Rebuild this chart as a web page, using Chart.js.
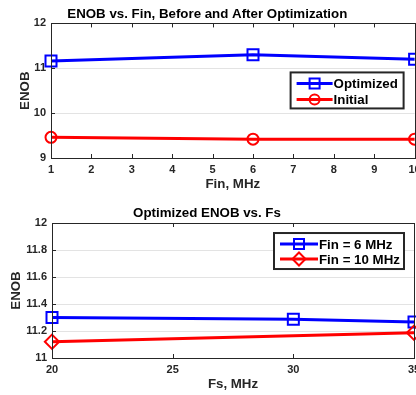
<!DOCTYPE html>
<html>
<head>
<meta charset="utf-8">
<script src="https://cdn.jsdelivr.net/npm/chart.js@4/dist/chart.umd.min.js"></script>
<style>
  html, body { margin: 0; padding: 0; background: #fff; overflow: hidden; width: 416px; height: 395px; }
  canvas { position: absolute; left: 0; }
  #chartFin { top: 0; }
  #chartFs { top: 196px; }
</style>
</head>
<body>
<canvas id="chartFin" width="466" height="196"></canvas>
<canvas id="chartFs" width="466" height="199"></canvas>
<script>
// dados do grafico de cima: ENOB x Fin
const finMHz = [1, 6, 10];
const enobOptimized = [11.16, 11.30, 11.20];
const enobInitial = [9.46, 9.42, 9.42];
const finTicks = [1, 2, 3, 4, 5, 6, 7, 8, 9, 10];
const enobTicksTop = [9, 10, 11, 12];

// dados do grafico de baixo: ENOB otimizado x Fs
const fsMHzFin6 = [20, 30, 35];
const enobFin6 = [11.30, 11.287, 11.267];
const fsMHzFin10 = [20, 35];
const enobFin10 = [11.12, 11.187];
const fsTicks = [20, 25, 30, 35];
const enobTicksBottom = [11, 11.2, 11.4, 11.6, 11.8, 12];

const FONT = "'Liberation Sans', Arial, sans-serif";
const AXIS = '#262626';

function pontos(xs, ys) {
    return xs.map((x, i) => ({ x: x, y: ys[i] }));
}

// desenha o marcador sem preenchimento, como no MATLAB
function marcador(ctx, style, x, y, r) {
    ctx.beginPath();
    if (style === 'rect') {
        ctx.rect(x - r, y - r, 2 * r, 2 * r);
    } else if (style === 'circle') {
        ctx.arc(x, y, r, 0, Math.PI * 2);
    } else {
        ctx.moveTo(x, y - r * 1.3);
        ctx.lineTo(x + r * 1.3, y);
        ctx.lineTo(x, y + r * 1.3);
        ctx.lineTo(x - r * 1.3, y);
        ctx.closePath();
    }
    ctx.stroke();
}

// caixa em volta da area do grafico, marcas internas dos ticks + legenda dentro
const caixaPlugin = {
    id: 'caixa',
    afterDatasetsDraw(chart, args, opts) {
        const ctx = chart.ctx;
        const a = chart.chartArea;
        ctx.save();
        ctx.strokeStyle = AXIS;
        ctx.lineWidth = 1;
        ctx.strokeRect(Math.round(a.left) + 0.5, Math.round(a.top) + 0.5,
            Math.round(a.right - a.left), Math.round(a.bottom - a.top));

        // marcas pequenas dos ticks por dentro
        ctx.beginPath();
        chart.scales.x.ticks.forEach(t => {
            const px = Math.round(chart.scales.x.getPixelForValue(t.value)) + 0.5;
            ctx.moveTo(px, a.bottom);
            ctx.lineTo(px, a.bottom - 4);
            ctx.moveTo(px, a.top);
            ctx.lineTo(px, a.top + 4);
        });
        chart.scales.y.ticks.forEach(t => {
            const py = Math.round(chart.scales.y.getPixelForValue(t.value)) + 0.5;
            ctx.moveTo(a.left, py);
            ctx.lineTo(a.left + 4, py);
        });
        ctx.stroke();

        const lg = opts.legend;
        const bx = a.right - lg.right;
        const by = a.top + lg.top;
        ctx.fillStyle = '#fff';
        ctx.fillRect(bx, by, lg.width, lg.height);
        ctx.lineWidth = 2;
        ctx.strokeStyle = '#262626';
        ctx.strokeRect(bx, by, lg.width, lg.height);

        ctx.font = 'bold 13.3px ' + FONT;
        ctx.textBaseline = 'middle';
        chart.data.datasets.forEach((ds, i) => {
            const y = by + lg.rows[i];
            ctx.strokeStyle = ds.borderColor;
            ctx.lineWidth = 3;
            ctx.beginPath();
            ctx.moveTo(bx + 6, y);
            ctx.lineTo(bx + lg.lineEnd, y);
            ctx.stroke();
            ctx.lineWidth = 2;
            marcador(ctx, ds.pointStyle, bx + (6 + lg.lineEnd) / 2, y, 5);
            ctx.fillStyle = '#000';
            ctx.fillText(ds.label, bx + lg.lineEnd + 1, y + 1);
        });
        ctx.restore();
    }
};

// marcadores desenhados por cima da linha, ocos
const marcadorPlugin = {
    id: 'marcadores',
    afterDatasetsDraw(chart) {
        const ctx = chart.ctx;
        ctx.save();
        chart.data.datasets.forEach((ds, i) => {
            const meta = chart.getDatasetMeta(i);
            ctx.strokeStyle = ds.borderColor;
            ctx.lineWidth = 2;
            meta.data.forEach(p => marcador(ctx, ds.pointStyle, p.x, p.y, 5.5));
        });
        ctx.restore();
    }
};

function serie(label, xs, ys, cor, estilo) {
    return {
        label: label,
        data: pontos(xs, ys),
        borderColor: cor,
        backgroundColor: cor,
        borderWidth: 3,
        pointStyle: estilo,
        pointRadius: 0,
        tension: 0,
        clip: false
    };
}

function opcoes(cfg) {
    return {
        responsive: false,
        animation: false,
        devicePixelRatio: 1,
        layout: { padding: { left: 0, right: cfg.padRight, top: 0, bottom: 0 } },
        plugins: {
            legend: { display: false },
            tooltip: { enabled: false },
            title: {
                display: true,
                text: cfg.title,
                color: '#000',
                font: { family: FONT, size: 13.3, weight: 'bold', lineHeight: 1.1 },
                padding: cfg.titlePad
            },
            caixa: { legend: cfg.legend }
        },
        scales: {
            x: {
                type: 'linear',
                min: cfg.xTicks[0],
                max: cfg.xTicks[cfg.xTicks.length - 1],
                afterBuildTicks: s => { s.ticks = cfg.xTicks.map(v => ({ value: v })); },
                afterFit: s => { s.height = cfg.xHeight; },
                grid: { display: false, drawTicks: false },
                border: { color: AXIS, width: 1 },
                ticks: { color: AXIS, padding: 5, maxRotation: 0, font: { family: FONT, size: 11, weight: 'bold' } },
                title: {
                    display: true,
                    text: cfg.xTitle,
                    color: AXIS,
                    font: { family: FONT, size: 13.3, weight: 'bold', lineHeight: 1.1 },
                    padding: { top: 0, bottom: cfg.xTitlePad }
                }
            },
            y: {
                min: cfg.yTicks[0],
                max: cfg.yTicks[cfg.yTicks.length - 1],
                afterBuildTicks: s => { s.ticks = cfg.yTicks.map(v => ({ value: v })); },
                afterFit: s => { s.width = cfg.yWidth; },
                grid: { color: '#e3e3e3', drawTicks: false },
                border: { color: AXIS, width: 1 },
                ticks: {
                    color: AXIS,
                    padding: 5,
                    font: { family: FONT, size: 11, weight: 'bold' },
                    callback: v => String(Number(v.toFixed(1)))
                },
                title: {
                    display: true,
                    text: 'ENOB',
                    color: AXIS,
                    font: { family: FONT, size: 13.3, weight: 'bold', lineHeight: 1.1 },
                    padding: { top: cfg.yTitlePad, bottom: 0 }
                }
            }
        }
    };
}

if (typeof Chart !== 'undefined') {

    // Grafico de cima
    new Chart(document.getElementById('chartFin').getContext('2d'), {
        type: 'line',
        data: {
            datasets: [
                serie('Optimized', finMHz, enobOptimized, '#0000ff', 'rect'),
                serie('Initial', finMHz, enobInitial, '#ff0000', 'circle')
            ]
        },
        options: opcoes({
            title: 'ENOB vs. Fin, Before and After Optimization',
            titlePad: { top: 7, bottom: 1.8 },
            xTitle: 'Fin, MHz',
            xTitlePad: 4,
            xHeight: 38,
            yWidth: 51,
            yTitlePad: 18,
            padRight: 51.4,
            xTicks: finTicks,
            yTicks: enobTicksTop,
            legend: { right: 124, top: 49, width: 113, height: 36, rows: [11, 27], lineEnd: 42 }
        }),
        plugins: [marcadorPlugin, caixaPlugin]
    });

    // Grafico de baixo
    new Chart(document.getElementById('chartFs').getContext('2d'), {
        type: 'line',
        data: {
            datasets: [
                serie('Fin = 6 MHz', fsMHzFin6, enobFin6, '#0000ff', 'rect'),
                serie('Fin = 10 MHz', fsMHzFin10, enobFin10, '#ff0000', 'rectRot')
            ]
        },
        options: opcoes({
            title: 'Optimized ENOB vs. Fs',
            titlePad: { top: 10, bottom: 2.4 },
            xTitle: 'Fs, MHz',
            xTitlePad: 3,
            xHeight: 37,
            yWidth: 52,
            yTitlePad: 9,
            padRight: 52,
            xTicks: fsTicks,
            yTicks: enobTicksBottom,
            legend: { right: 140, top: 10, width: 130, height: 36, rows: [11, 26], lineEnd: 44 }
        }),
        plugins: [marcadorPlugin, caixaPlugin]
    });

} else {
    console.error('Chart.js nao encontrado.');
}
</script>
</body>
</html>
